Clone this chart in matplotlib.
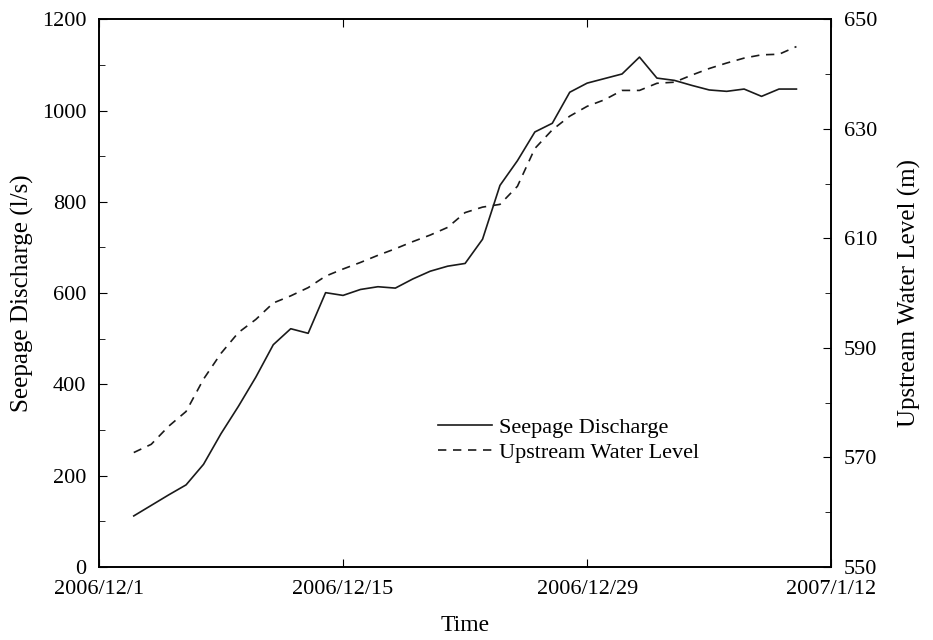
import matplotlib
matplotlib.use('Agg')
import matplotlib.pyplot as plt
from matplotlib.ticker import MultipleLocator
import numpy as np
import pandas as pd

plt.rcParams['font.family'] = ['Liberation Serif', 'DejaVu Serif']

# Daily readings, 2006/12/3 to 2007/1/10
dates = pd.date_range('2006-12-03', '2007-01-10', freq='D')
seepage = [112, 135, 158, 180, 225, 292, 352, 416, 487, 522,
           512, 601, 595, 608, 614, 611, 631, 648, 659, 665,
           718, 836, 890, 953, 972, 1040, 1060, 1070, 1080, 1117,
           1071, 1066, 1055, 1045, 1042, 1047, 1031, 1047, 1047]
water_level = [570.9, 572.4, 575.7, 578.4, 584.3, 589.0, 592.8, 595.2, 598.2, 599.5,
               601.0, 603.1, 604.4, 605.6, 606.9, 608.1, 609.4, 610.6, 612.0, 614.7,
               615.7, 616.2, 619.5, 626.4, 629.8, 632.3, 634.1, 635.3, 637.0, 637.0,
               638.3, 638.5, 639.8, 641.0, 642.0, 642.9, 643.5, 643.6, 645.0]

tick_dates = pd.to_datetime(['2006-12-01', '2006-12-15', '2006-12-29', '2007-01-12'])
tick_labels = ['2006/12/1', '2006/12/15', '2006/12/29', '2007/1/12']
level_ticks = [550, 570, 590, 610, 630, 650]

fig = plt.figure(figsize=(9.33, 6.40), dpi=100)
ax = fig.add_axes([0.106, 0.114, 0.785, 0.856])
ax2 = ax.twinx()

l1, = ax.plot(dates, seepage, color='#1a1a1a', lw=1.2, ls='-', label='Seepage Discharge')
l2, = ax2.plot(dates, water_level, color='#1a1a1a', lw=1.2, ls=(0, (5, 4)),
               label='Upstream Water Level')

ax.set_xlim(tick_dates[0], tick_dates[-1])
ax.set_xticks(tick_dates)
ax.set_xticklabels(tick_labels)

ax.set_ylim(0, 1200)
ax.yaxis.set_major_locator(MultipleLocator(200))
ax.yaxis.set_minor_locator(MultipleLocator(100))
ax2.set_ylim(550, 650)
ax2.set_yticks(level_ticks)
ax2.yaxis.set_minor_locator(MultipleLocator(10))

ax.tick_params(axis='x', direction='in', top=True, length=6, labelsize=16, pad=9)
ax.tick_params(axis='y', which='major', direction='in', length=6, labelsize=16, pad=9)
ax.tick_params(axis='y', which='minor', direction='in', length=4)
ax2.tick_params(axis='y', which='major', direction='in', length=6, labelsize=16, pad=9)
ax2.tick_params(axis='y', which='minor', direction='in', length=4)

for a in (ax, ax2):
    for s in a.spines.values():
        s.set_linewidth(1.2)

ax.set_xlabel('Time', fontsize=17, labelpad=12)
ax.set_ylabel('Seepage Discharge (l/s)', fontsize=18, labelpad=6)
ax2.set_ylabel('Upstream Water Level (m)', fontsize=18, labelpad=15)

ax.legend(handles=[l1, l2], loc='center left', bbox_to_anchor=(0.436, 0.232),
          frameon=False, fontsize=16, handlelength=2.4, handletextpad=0.35,
          labelspacing=0.2)

fig.savefig('out.png', dpi=100)
